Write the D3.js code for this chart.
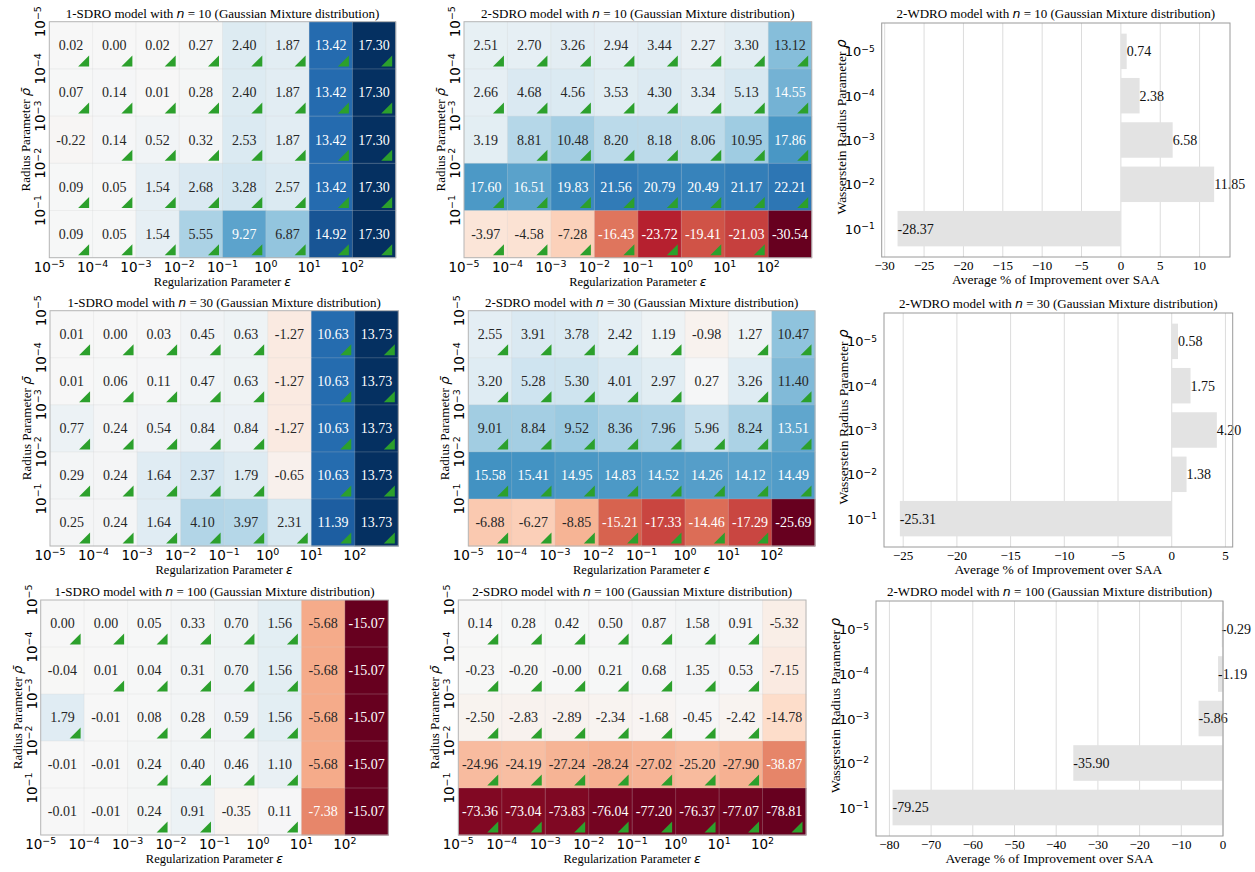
<!DOCTYPE html>
<html>
<head>
<meta charset="utf-8">
<script src="https://cdn.jsdelivr.net/npm/d3@7"></script>
<style>
  body { margin: 0; background: #fff; }
</style>
</head>
<body>
<script>
/* ---- tick exponents ---- */
var epsExp = [-5, -4, -3, -2, -1, 0, 1, 2];
var rhoExp = [-5, -4, -3, -2, -1];

/* ---- 1-SDRO heatmaps (rows: rho 1e-5 .. 1e-1, cols: eps 1e-5 .. 1e2) ---- */
var sdro1_n10 = [
  [0.02, 0.00, 0.02, 0.27, 2.40, 1.87, 13.42, 17.30],
  [0.07, 0.14, 0.01, 0.28, 2.40, 1.87, 13.42, 17.30],
  [-0.22, 0.14, 0.52, 0.32, 2.53, 1.87, 13.42, 17.30],
  [0.09, 0.05, 1.54, 2.68, 3.28, 2.57, 13.42, 17.30],
  [0.09, 0.05, 1.54, 5.55, 9.27, 6.87, 14.92, 17.30]
];
var sdro1_n10_mark = ["11111111", "11111111", "01111111", "11111111", "11111111"];

var sdro1_n30 = [
  [0.01, 0.00, 0.03, 0.45, 0.63, -1.27, 10.63, 13.73],
  [0.01, 0.06, 0.11, 0.47, 0.63, -1.27, 10.63, 13.73],
  [0.77, 0.24, 0.54, 0.84, 0.84, -1.27, 10.63, 13.73],
  [0.29, 0.24, 1.64, 2.37, 1.79, -0.65, 10.63, 13.73],
  [0.25, 0.24, 1.64, 4.10, 3.97, 2.31, 11.39, 13.73]
];
var sdro1_n30_mark = ["11111011", "11111011", "11111011", "11111011", "11111111"];

var sdro1_n100 = [
  [0.00, 0.00, 0.05, 0.33, 0.70, 1.56, -5.68, -15.07],
  [-0.04, 0.01, 0.04, 0.31, 0.70, 1.56, -5.68, -15.07],
  [1.79, -0.01, 0.08, 0.28, 0.59, 1.56, -5.68, -15.07],
  [-0.01, -0.01, 0.24, 0.40, 0.46, 1.10, -5.68, -15.07],
  [-0.01, -0.01, 0.24, 0.91, -0.35, 0.11, -7.38, -15.07]
];
var sdro1_n100_mark = ["11111100", "01111100", "10111100", "00111100", "00110100"];

/* ---- 2-SDRO heatmaps ---- */
var sdro2_n10 = [
  [2.51, 2.70, 3.26, 2.94, 3.44, 2.27, 3.30, 13.12],
  [2.66, 4.68, 4.56, 3.53, 4.30, 3.34, 5.13, 14.55],
  [3.19, 8.81, 10.48, 8.20, 8.18, 8.06, 10.95, 17.86],
  [17.60, 16.51, 19.83, 21.56, 20.79, 20.49, 21.17, 22.21],
  [-3.97, -4.58, -7.28, -16.43, -23.72, -19.41, -21.03, -30.54]
];
var sdro2_n10_mark = ["11111111", "11111111", "01111111", "11111111", "11111110"];

var sdro2_n30 = [
  [2.55, 3.91, 3.78, 2.42, 1.19, -0.98, 1.27, 10.47],
  [3.20, 5.28, 5.30, 4.01, 2.97, 0.27, 3.26, 11.40],
  [9.01, 8.84, 9.52, 8.36, 7.96, 5.96, 8.24, 13.51],
  [15.58, 15.41, 14.95, 14.83, 14.52, 14.26, 14.12, 14.49],
  [-6.88, -6.27, -8.85, -15.21, -17.33, -14.46, -17.29, -25.69]
];
var sdro2_n30_mark = ["11111011", "11111011", "11111111", "11111111", "11111110"];

var sdro2_n100 = [
  [0.14, 0.28, 0.42, 0.50, 0.87, 1.58, 0.91, -5.32],
  [-0.23, -0.20, -0.001, 0.21, 0.68, 1.35, 0.53, -7.15],
  [-2.50, -2.83, -2.89, -2.34, -1.68, -0.45, -2.42, -14.78],
  [-24.96, -24.19, -27.24, -28.24, -27.02, -25.20, -27.90, -38.87],
  [-73.36, -73.04, -73.83, -76.04, -77.20, -76.37, -77.07, -78.81]
];
var sdro2_n100_mark = ["11111110", "11111110", "11111110", "11111110", "11111111"];

/* ---- 2-WDRO bars (rho 1e-5 .. 1e-1) ---- */
var wdro2_n10 = [0.74, 2.38, 6.58, 11.85, -28.37];
var wdro2_n30 = [0.58, 1.75, 4.20, 1.38, -25.31];
var wdro2_n100 = [-0.29, -1.19, -5.86, -35.90, -79.25];

var SERIF = "'Liberation Serif', 'Times New Roman', serif";
var SANS = "'DejaVu Sans', sans-serif";

/* RdBu with straight (not spline) steps between the 11 brewer colours */
var rdbu = d3.piecewise(d3.interpolateRgb, d3.schemeRdBu[11]);

var svg = d3.select("body").append("svg")
  .attr("width", 1255)
  .attr("height", 872);

function pow10(sel, e) {
  sel.append("tspan").text("10");
  sel.append("tspan")
    .attr("dy", "-0.5em")
    .attr("font-size", "0.7em")
    .text(e < 0 ? "\u2212" + Math.abs(e) : String(e));
}

function title(g, cx, y, model, n) {
  var t = g.append("text")
    .attr("x", cx).attr("y", y)
    .attr("text-anchor", "middle")
    .style("font-family", SERIF)
    .style("font-size", "13px");
  t.append("tspan").text(model + " model with ");
  t.append("tspan").style("font-family", SANS).style("font-style", "italic").style("font-size", "12.5px").text("n");
  t.append("tspan").text(" = " + n + " (Gaussian Mixture distribution)");
}

function heatmap(p) {
  var g = svg.append("g");
  var x = d3.scaleBand().domain(d3.range(8)).range([p.x0, p.x1]);
  var y = d3.scaleBand().domain(d3.range(5)).range([p.y0, p.y1]);
  var m = d3.max(p.vals.flat(), function (v) { return Math.abs(v); });
  var color = d3.scaleDiverging([-m, 0, m], rdbu);

  var cells = [];
  p.vals.forEach(function (row, i) {
    row.forEach(function (v, j) {
      cells.push({ i: i, j: j, v: v, mk: p.marks[i][j] === "1" });
    });
  });

  g.selectAll("rect.cell").data(cells).join("rect")
    .attr("x", function (d) { return x(d.j); })
    .attr("y", function (d) { return y(d.i); })
    .attr("width", x.bandwidth() + 0.4)
    .attr("height", y.bandwidth() + 0.4)
    .attr("fill", function (d) { return color(d.v); });

  /* faint grid lines on the cell edges */
  g.selectAll("line.gx").data(d3.range(1, 8)).join("line")
    .attr("x1", function (j) { return x(j); }).attr("x2", function (j) { return x(j); })
    .attr("y1", p.y0).attr("y2", p.y1)
    .attr("stroke", "#d0d0d0").attr("stroke-opacity", 0.25).attr("stroke-width", 1);
  g.selectAll("line.gy").data(d3.range(1, 5)).join("line")
    .attr("y1", function (i) { return y(i); }).attr("y2", function (i) { return y(i); })
    .attr("x1", p.x0).attr("x2", p.x1)
    .attr("stroke", "#d0d0d0").attr("stroke-opacity", 0.25).attr("stroke-width", 1);

  g.selectAll("text.val").data(cells).join("text")
    .attr("x", function (d) { return x(d.j) + x.bandwidth() / 2; })
    .attr("y", function (d) { return y(d.i) + y.bandwidth() / 2; })
    .attr("dy", "0.35em")
    .attr("text-anchor", "middle")
    .style("font-family", SERIF)
    .style("font-size", "14px")
    .attr("fill", function (d) {
      var t = (d.v / m + 1) / 2;
      return Math.abs(t - 0.5) > 0.225 ? "#ffffff" : "#262626";
    })
    .text(function (d) { return d.v.toFixed(2); });

  var s = 11;
  g.selectAll("path.tri").data(cells.filter(function (d) { return d.mk; })).join("path")
    .attr("d", function (d) {
      var rx = x(d.j) + x.bandwidth() - 3.5, by = y(d.i) + y.bandwidth() - 2.5;
      return "M" + (rx - s) + "," + by + "L" + rx + "," + by + "L" + rx + "," + (by - s) + "Z";
    })
    .attr("fill", "#2ca02c");

  g.append("rect")
    .attr("x", p.x0).attr("y", p.y0)
    .attr("width", p.x1 - p.x0).attr("height", p.y1 - p.y0)
    .attr("fill", "none").attr("stroke", "#b5b5b5").attr("stroke-width", 1);

  /* x ticks at the left edge of each column */
  g.selectAll("text.xt").data(epsExp).join("text")
    .attr("x", function (e, j) { return x(j); })
    .attr("y", p.y1 + 14)
    .attr("text-anchor", "middle")
    .style("font-family", SANS)
    .style("font-size", "13.5px")
    .each(function (e) { pow10(d3.select(this), e); });

  /* y ticks at the top edge of each row, rotated */
  g.selectAll("text.yt").data(rhoExp).join("text")
    .attr("transform", function (e, i) { return "translate(" + (p.x0 - 4) + "," + y(i) + ") rotate(-90)"; })
    .attr("text-anchor", "middle")
    .style("font-family", SANS)
    .style("font-size", "13.5px")
    .each(function (e) { pow10(d3.select(this), e); });

  var xl = g.append("text")
    .attr("x", (p.x0 + p.x1) / 2).attr("y", p.y1 + 28)
    .attr("text-anchor", "middle")
    .style("font-family", SERIF).style("font-size", "12.5px");
  xl.append("tspan").text("Regularization Parameter ");
  xl.append("tspan").style("font-family", SANS).style("font-style", "italic").text("\u03b5");

  var yl = g.append("text")
    .attr("transform", "translate(" + (p.x0 - 19) + "," + ((p.y0 + p.y1) / 2) + ") rotate(-90)")
    .attr("text-anchor", "middle")
    .style("font-family", SERIF).style("font-size", "13px");
  yl.append("tspan").text("Radius Parameter ");
  yl.append("tspan").style("font-family", SANS).style("font-style", "italic").text("\u03c1\u0304");

  title(g, (p.x0 + p.x1) / 2, p.y0 - 4, p.model, p.n);
}

function bars(p) {
  var g = svg.append("g");
  var lo = Math.min(0, d3.min(p.vals)), hi = Math.max(0, d3.max(p.vals));
  var r = hi - lo;
  var x = d3.scaleLinear()
    .domain([lo < 0 ? lo - 0.05 * r : 0, hi > 0 ? hi + 0.05 * r : 0])
    .range([p.x0, p.x1]);
  var y = d3.scaleLinear().domain([-0.64, 4.64]).range([p.y0, p.y1]);
  var bh = y(0.8) - y(0);
  var ticks = x.ticks();

  g.selectAll("line.grid").data(ticks).join("line")
    .attr("x1", function (d) { return x(d); }).attr("x2", function (d) { return x(d); })
    .attr("y1", p.y0).attr("y2", p.y1)
    .attr("stroke", "#dcdcdc").attr("stroke-width", 1);

  g.selectAll("rect.bar").data(p.vals).join("rect")
    .attr("x", function (d) { return Math.min(x(0), x(d)); })
    .attr("y", function (d, i) { return y(i) - bh / 2; })
    .attr("width", function (d) { return Math.abs(x(d) - x(0)); })
    .attr("height", bh)
    .attr("fill", "#e3e3e3");

  g.selectAll("text.val").data(p.vals).join("text")
    .attr("x", function (d) { return x(d); })
    .attr("y", function (d, i) { return y(i); })
    .attr("dy", "0.35em")
    .style("font-family", SERIF).style("font-size", "14px")
    .attr("fill", "#111")
    .text(function (d) { return d.toFixed(2); });

  g.append("rect")
    .attr("x", p.x0).attr("y", p.y0)
    .attr("width", p.x1 - p.x0).attr("height", p.y1 - p.y0)
    .attr("fill", "none").attr("stroke", "#9a9a9a").attr("stroke-width", 1);

  g.selectAll("text.xt").data(ticks).join("text")
    .attr("x", function (d) { return x(d); })
    .attr("y", p.y1 + 13)
    .attr("text-anchor", "middle")
    .style("font-family", SERIF).style("font-size", "13px")
    .text(d3.format("d"));

  g.selectAll("text.yt").data(rhoExp).join("text")
    .attr("x", p.x0 - 7)
    .attr("y", function (e, i) { return y(i) + 5; })
    .attr("text-anchor", "end")
    .style("font-family", SANS).style("font-size", "13px")
    .each(function (e) { pow10(d3.select(this), e); });

  g.append("text")
    .attr("x", (p.x0 + p.x1) / 2).attr("y", p.y1 + 27)
    .attr("text-anchor", "middle")
    .style("font-family", SERIF).style("font-size", "13.5px")
    .text("Average % of Improvement over SAA");

  var yl = g.append("text")
    .attr("transform", "translate(" + (p.x0 - 36) + "," + ((p.y0 + p.y1) / 2 - 13) + ") rotate(-90)")
    .attr("text-anchor", "middle")
    .style("font-family", SERIF).style("font-size", "13.5px");
  yl.append("tspan").text("Wasserstein Radius Parameter ");
  yl.append("tspan").style("font-family", SANS).style("font-style", "italic").text("\u03c1");

  title(g, (p.x0 + p.x1) / 2, p.y0 - 5, p.model, p.n);
}

heatmap({ x0: 49.3, x1: 395.7, y0: 21.7, y1: 257.7, vals: sdro1_n10, marks: sdro1_n10_mark, model: "1-SDRO", n: 10 });
heatmap({ x0: 464, x1: 811.7, y0: 21.7, y1: 257.7, vals: sdro2_n10, marks: sdro2_n10_mark, model: "2-SDRO", n: 10 });
bars({ x0: 881.7, x1: 1230, y0: 23, y1: 257, vals: wdro2_n10, model: "2-WDRO", n: 10 });

heatmap({ x0: 50, x1: 398.3, y0: 310.7, y1: 546, vals: sdro1_n30, marks: sdro1_n30_mark, model: "1-SDRO", n: 30 });
heatmap({ x0: 468.3, x1: 815, y0: 310.7, y1: 546, vals: sdro2_n30, marks: sdro2_n30_mark, model: "2-SDRO", n: 30 });
bars({ x0: 884, x1: 1232.7, y0: 313, y1: 547, vals: wdro2_n30, model: "2-WDRO", n: 30 });

heatmap({ x0: 40.7, x1: 388.3, y0: 600, y1: 835, vals: sdro1_n100, marks: sdro1_n100_mark, model: "1-SDRO", n: 100 });
heatmap({ x0: 458.3, x1: 806, y0: 600, y1: 835, vals: sdro2_n100, marks: sdro2_n100_mark, model: "2-SDRO", n: 100 });
bars({ x0: 876, x1: 1223, y0: 601, y1: 836, vals: wdro2_n100, model: "2-WDRO", n: 100 });
</script>
</body>
</html>
